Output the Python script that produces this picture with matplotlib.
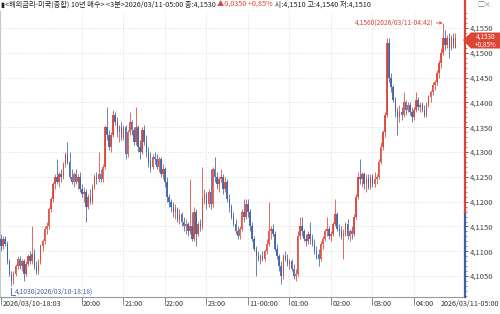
import numpy as np
import matplotlib
matplotlib.use('Agg')
import matplotlib.pyplot as plt
from matplotlib.patches import Polygon

plt.rcParams['font.family'] = ['Noto Sans CJK KR', 'DejaVu Sans']

# 3분봉 시/고/저/종 (2026/03/10-18:03 ~ 2026/03/11-05:00)
opens = [
    4.1125, 4.1110, 4.1125, 4.1115, 4.1080, 4.1055, 4.1040, 4.1055, 4.1070, 4.1085,
    4.1070, 4.1080, 4.1055, 4.1075, 4.1090, 4.1080, 4.1095, 4.1070, 4.1060, 4.1080,
    4.1110, 4.1120, 4.1145, 4.1150, 4.1185, 4.1205, 4.1235, 4.1250, 4.1240, 4.1255,
    4.1250, 4.1275, 4.1295, 4.1280, 4.1250, 4.1240, 4.1255, 4.1240, 4.1250, 4.1225,
    4.1215, 4.1220, 4.1190, 4.1210, 4.1200, 4.1230, 4.1250, 4.1245, 4.1255, 4.1245,
    4.1270, 4.1350, 4.1335, 4.1310, 4.1335, 4.1375, 4.1360, 4.1340, 4.1350, 4.1330,
    4.1350, 4.1295, 4.1340, 4.1360, 4.1345, 4.1320, 4.1350, 4.1310, 4.1300, 4.1345,
    4.1320, 4.1300, 4.1280, 4.1270, 4.1290, 4.1285, 4.1270, 4.1285, 4.1255, 4.1265,
    4.1240, 4.1210, 4.1200, 4.1190, 4.1180, 4.1185, 4.1165, 4.1175, 4.1160, 4.1150,
    4.1155, 4.1140, 4.1150, 4.1125, 4.1180, 4.1135, 4.1155, 4.1150, 4.1205, 4.1215,
    4.1195, 4.1220, 4.1195, 4.1265, 4.1250, 4.1235, 4.1245, 4.1250, 4.1225, 4.1240,
    4.1205, 4.1190, 4.1170, 4.1155, 4.1140, 4.1130, 4.1145, 4.1180, 4.1170, 4.1195,
    4.1180, 4.1150, 4.1125, 4.1105, 4.1090, 4.1085, 4.1090, 4.1085, 4.1100, 4.1115,
    4.1140, 4.1145, 4.1135, 4.1105, 4.1090, 4.1070, 4.1050, 4.1090, 4.1085, 4.1075,
    4.1080, 4.1065, 4.1050, 4.1055, 4.1130, 4.1150, 4.1140, 4.1125, 4.1120, 4.1135,
    4.1125, 4.1115, 4.1100, 4.1095, 4.1085, 4.1115, 4.1125, 4.1140, 4.1145, 4.1130,
    4.1135, 4.1155, 4.1175, 4.1145, 4.1140, 4.1130, 4.1135, 4.1155, 4.1130, 4.1140,
    4.1135, 4.1170, 4.1210, 4.1250, 4.1245, 4.1255, 4.1235, 4.1245, 4.1230, 4.1250,
    4.1235, 4.1245, 4.1250, 4.1280, 4.1310, 4.1340, 4.1375, 4.1520, 4.1450, 4.1430,
    4.1405, 4.1380, 4.1370, 4.1380, 4.1375, 4.1400, 4.1385, 4.1395, 4.1380, 4.1370,
    4.1385, 4.1405, 4.1390, 4.1395, 4.1385, 4.1375, 4.1395, 4.1410, 4.1420, 4.1435,
    4.1440, 4.1460, 4.1480, 4.1500, 4.1530, 4.1515, 4.1530, 4.1510, 4.1530, 4.1510,
]
highs = [
    4.1135, 4.1130, 4.1130, 4.1120, 4.1085, 4.1060, 4.1060, 4.1075, 4.1090, 4.1090,
    4.1085, 4.1085, 4.1080, 4.1095, 4.1100, 4.1150, 4.1105, 4.1080, 4.1085, 4.1115,
    4.1125, 4.1150, 4.1160, 4.1190, 4.1210, 4.1240, 4.1255, 4.1285, 4.1260, 4.1265,
    4.1280, 4.1300, 4.1320, 4.1300, 4.1265, 4.1260, 4.1265, 4.1255, 4.1260, 4.1235,
    4.1230, 4.1225, 4.1215, 4.1225, 4.1235, 4.1255, 4.1260, 4.1300, 4.1265, 4.1275,
    4.1355, 4.1390, 4.1345, 4.1340, 4.1385, 4.1380, 4.1370, 4.1355, 4.1360, 4.1355,
    4.1355, 4.1345, 4.1380, 4.1365, 4.1350, 4.1390, 4.1355, 4.1325, 4.1350, 4.1355,
    4.1335, 4.1310, 4.1300, 4.1295, 4.1300, 4.1295, 4.1290, 4.1290, 4.1275, 4.1270,
    4.1250, 4.1215, 4.1205, 4.1200, 4.1195, 4.1190, 4.1185, 4.1180, 4.1170, 4.1165,
    4.1160, 4.1245, 4.1180, 4.1190, 4.1185, 4.1160, 4.1165, 4.1270, 4.1225, 4.1220,
    4.1225, 4.1265, 4.1270, 4.1290, 4.1260, 4.1250, 4.1265, 4.1255, 4.1250, 4.1245,
    4.1215, 4.1195, 4.1180, 4.1165, 4.1150, 4.1150, 4.1185, 4.1205, 4.1205, 4.1205,
    4.1185, 4.1160, 4.1130, 4.1110, 4.1100, 4.1095, 4.1100, 4.1105, 4.1125, 4.1200,
    4.1150, 4.1155, 4.1140, 4.1115, 4.1095, 4.1080, 4.1095, 4.1100, 4.1095, 4.1085,
    4.1085, 4.1075, 4.1065, 4.1140, 4.1170, 4.1170, 4.1145, 4.1135, 4.1140, 4.1160,
    4.1135, 4.1125, 4.1110, 4.1105, 4.1120, 4.1130, 4.1145, 4.1170, 4.1150, 4.1140,
    4.1160, 4.1205, 4.1180, 4.1155, 4.1150, 4.1145, 4.1160, 4.1165, 4.1145, 4.1150,
    4.1175, 4.1215, 4.1260, 4.1285, 4.1260, 4.1260, 4.1255, 4.1255, 4.1255, 4.1255,
    4.1260, 4.1255, 4.1285, 4.1320, 4.1345, 4.1380, 4.1530, 4.1530, 4.1460, 4.1435,
    4.1410, 4.1390, 4.1395, 4.1390, 4.1420, 4.1405, 4.1400, 4.1400, 4.1390, 4.1390,
    4.1420, 4.1410, 4.1400, 4.1400, 4.1395, 4.1400, 4.1415, 4.1425, 4.1440, 4.1445,
    4.1465, 4.1485, 4.1510, 4.1560, 4.1545, 4.1535, 4.1540, 4.1535, 4.1540, 4.1540,
]
lows = [
    4.1100, 4.1105, 4.1110, 4.1075, 4.1050, 4.1030, 4.1035, 4.1050, 4.1065, 4.1065,
    4.1060, 4.1040, 4.1050, 4.1070, 4.1075, 4.1075, 4.1065, 4.1055, 4.1055, 4.1075,
    4.1100, 4.1115, 4.1135, 4.1145, 4.1180, 4.1200, 4.1225, 4.1235, 4.1230, 4.1240,
    4.1245, 4.1270, 4.1275, 4.1245, 4.1235, 4.1230, 4.1235, 4.1225, 4.1220, 4.1210,
    4.1200, 4.1160, 4.1185, 4.1195, 4.1195, 4.1225, 4.1235, 4.1240, 4.1240, 4.1240,
    4.1265, 4.1325, 4.1305, 4.1300, 4.1330, 4.1355, 4.1330, 4.1320, 4.1325, 4.1325,
    4.1285, 4.1290, 4.1335, 4.1335, 4.1315, 4.1315, 4.1300, 4.1285, 4.1295, 4.1315,
    4.1290, 4.1270, 4.1260, 4.1265, 4.1275, 4.1265, 4.1260, 4.1250, 4.1245, 4.1230,
    4.1200, 4.1190, 4.1180, 4.1170, 4.1165, 4.1160, 4.1155, 4.1150, 4.1140, 4.1135,
    4.1130, 4.1135, 4.1120, 4.1120, 4.1110, 4.1130, 4.1140, 4.1145, 4.1195, 4.1185,
    4.1190, 4.1185, 4.1190, 4.1240, 4.1225, 4.1220, 4.1240, 4.1215, 4.1220, 4.1200,
    4.1180, 4.1165, 4.1150, 4.1135, 4.1125, 4.1125, 4.1140, 4.1160, 4.1165, 4.1170,
    4.1140, 4.1120, 4.1100, 4.1050, 4.1080, 4.1075, 4.1080, 4.1080, 4.1095, 4.1110,
    4.1125, 4.1130, 4.1100, 4.1085, 4.1060, 4.1035, 4.1045, 4.1080, 4.1070, 4.1065,
    4.1060, 4.1045, 4.1040, 4.1050, 4.1125, 4.1130, 4.1120, 4.1110, 4.1115, 4.1115,
    4.1110, 4.1095, 4.1085, 4.1070, 4.1080, 4.1105, 4.1120, 4.1130, 4.1125, 4.1120,
    4.1130, 4.1150, 4.1140, 4.1130, 4.1125, 4.1085, 4.1130, 4.1125, 4.1120, 4.1125,
    4.1130, 4.1165, 4.1205, 4.1235, 4.1230, 4.1225, 4.1220, 4.1225, 4.1225, 4.1230,
    4.1230, 4.1235, 4.1245, 4.1275, 4.1305, 4.1330, 4.1370, 4.1440, 4.1420, 4.1400,
    4.1370, 4.1335, 4.1360, 4.1365, 4.1370, 4.1375, 4.1380, 4.1375, 4.1360, 4.1365,
    4.1380, 4.1385, 4.1380, 4.1380, 4.1370, 4.1370, 4.1390, 4.1400, 4.1415, 4.1425,
    4.1435, 4.1450, 4.1470, 4.1495, 4.1505, 4.1510, 4.1490, 4.1505, 4.1510, 4.1510,
]
closes = [
    4.1110, 4.1125, 4.1115, 4.1080, 4.1055, 4.1040, 4.1055, 4.1070, 4.1085, 4.1070,
    4.1080, 4.1055, 4.1075, 4.1090, 4.1080, 4.1095, 4.1070, 4.1060, 4.1080, 4.1110,
    4.1120, 4.1145, 4.1150, 4.1185, 4.1205, 4.1235, 4.1250, 4.1240, 4.1255, 4.1250,
    4.1275, 4.1295, 4.1280, 4.1250, 4.1240, 4.1255, 4.1240, 4.1250, 4.1225, 4.1215,
    4.1220, 4.1190, 4.1210, 4.1200, 4.1230, 4.1250, 4.1245, 4.1255, 4.1245, 4.1270,
    4.1350, 4.1335, 4.1310, 4.1335, 4.1375, 4.1360, 4.1340, 4.1350, 4.1330, 4.1350,
    4.1295, 4.1340, 4.1360, 4.1345, 4.1320, 4.1350, 4.1310, 4.1300, 4.1345, 4.1320,
    4.1300, 4.1280, 4.1270, 4.1290, 4.1285, 4.1270, 4.1285, 4.1255, 4.1265, 4.1240,
    4.1210, 4.1200, 4.1190, 4.1180, 4.1185, 4.1165, 4.1175, 4.1160, 4.1150, 4.1155,
    4.1140, 4.1150, 4.1125, 4.1180, 4.1135, 4.1155, 4.1150, 4.1205, 4.1215, 4.1195,
    4.1220, 4.1195, 4.1265, 4.1250, 4.1235, 4.1245, 4.1250, 4.1225, 4.1240, 4.1205,
    4.1190, 4.1170, 4.1155, 4.1140, 4.1130, 4.1145, 4.1180, 4.1170, 4.1195, 4.1180,
    4.1150, 4.1125, 4.1105, 4.1090, 4.1085, 4.1090, 4.1085, 4.1100, 4.1115, 4.1140,
    4.1145, 4.1135, 4.1105, 4.1090, 4.1070, 4.1050, 4.1090, 4.1085, 4.1075, 4.1080,
    4.1065, 4.1050, 4.1055, 4.1130, 4.1150, 4.1140, 4.1125, 4.1120, 4.1135, 4.1125,
    4.1115, 4.1100, 4.1095, 4.1085, 4.1115, 4.1125, 4.1140, 4.1145, 4.1130, 4.1135,
    4.1155, 4.1175, 4.1145, 4.1140, 4.1130, 4.1135, 4.1155, 4.1130, 4.1140, 4.1135,
    4.1170, 4.1210, 4.1250, 4.1245, 4.1255, 4.1235, 4.1245, 4.1230, 4.1250, 4.1235,
    4.1245, 4.1250, 4.1280, 4.1310, 4.1340, 4.1375, 4.1520, 4.1450, 4.1430, 4.1405,
    4.1380, 4.1370, 4.1380, 4.1375, 4.1400, 4.1385, 4.1395, 4.1380, 4.1370, 4.1385,
    4.1405, 4.1390, 4.1395, 4.1385, 4.1375, 4.1395, 4.1410, 4.1420, 4.1435, 4.1440,
    4.1460, 4.1480, 4.1500, 4.1530, 4.1515, 4.1530, 4.1510, 4.1530, 4.1515, 4.1530,
]

# 시간축 라벨 (봉 번호 기준)
tick_pos = [0, 39, 59, 79, 99, 119, 139, 159, 179, 199]
tick_labels = ['2026/03/10-18:03', '20:00', '21:00', '22:00', '23:00',
               '11-00:00', '01:00', '02:00', '03:00', '04:00']
end_label = '2026/03/11-05:00'
y_ticks = [4.105, 4.110, 4.115, 4.120, 4.125, 4.130, 4.135, 4.140, 4.145, 4.150, 4.155]

prev_close = 4.1180
hi_bar, hi_val, hi_time = 213, 4.1560, '2026/03/11-04:42'
lo_bar, lo_val, lo_time = 5, 4.1030, '2026/03/10-18:18'

RED = '#dc4436'
BLUE = '#3f62a6'
W, H = 500, 314


def fmt(v):
    return f'{v:.4f}'.replace('.', ',')


fig = plt.figure(figsize=(W / 100, H / 100), dpi=100)
fig.patch.set_facecolor('white')
ax = fig.add_axes([0.0, 17 / H, 465 / W, 286 / H])
ax.set_xlim(-0.5, 223.6)
ax.set_ylim(4.1008, 4.1584)

# 그리드
for y in y_ticks:
    ax.axhline(y, color='#d4d4d4', lw=0.6, ls=(0, (1, 2)), zorder=0)
for p in tick_pos[1:]:
    ax.axvline(p, color='#d4d4d4', lw=0.6, ls=(0, (1, 2)), zorder=0)

# 캔들
o = np.array(opens)
h = np.array(highs)
l = np.array(lows)
c = np.array(closes)
x = np.arange(len(c))
col = np.where(c >= o, RED, BLUE)
ax.vlines(x, l, h, colors=col, lw=0.7, alpha=0.8, zorder=2)
ax.bar(x, np.maximum(np.abs(c - o), 0.00008), bottom=np.minimum(o, c),
       width=0.7, color=col, lw=0, alpha=0.9, zorder=3)

# 축 스타일
for s in ['top', 'right']:
    ax.spines[s].set_visible(False)
ax.spines['left'].set_color('#c8c8c8')
ax.spines['left'].set_linewidth(0.8)
ax.spines['bottom'].set_color('#9a9a9a')
ax.spines['bottom'].set_linewidth(0.8)

ax.yaxis.tick_right()
ax.set_yticks(y_ticks)
ax.set_yticklabels([fmt(v) for v in y_ticks])
ax.set_yticks(np.arange(4.101, 4.158, 0.001), minor=True)
ax.tick_params(axis='y', which='major', length=2.5, width=0.6, pad=0.8,
               labelsize=5.5, colors='#444444')
ax.tick_params(axis='y', which='minor', length=1.3, width=0.5, colors='#666666')

ax.set_xticks(tick_pos)
ax.set_xticklabels([])
ax.tick_params(axis='x', length=6, width=0.6, colors='#777777')
for p, lab in zip(tick_pos, tick_labels):
    ax.text(p + 0.6, -7 / 286, lab, transform=ax.get_xaxis_transform(),
            ha='left', va='center', fontsize=5.2, color='#333333')
fig.text(499 / W, 1 - 304 / H, end_label, ha='right', va='center',
         fontsize=5.2, color='#333333')

# 오른쪽 축선: 전일 종가 기준 위 빨강 / 아래 파랑
yt = ax.get_yaxis_transform()
ax.plot([1, 1], [4.1008, prev_close], color=BLUE, lw=1.6, transform=yt,
        clip_on=False, zorder=5)
ax.plot([1, 1], [prev_close, 4.1607], color=RED, lw=1.6, transform=yt,
        clip_on=False, zorder=5)

# 최고/최저 표시
ax.annotate(f'{fmt(hi_val)}({hi_time})', xy=(hi_bar - 0.2, hi_val),
            xytext=(-9, 0), textcoords='offset pixels', ha='right', va='center',
            fontsize=4.8, color=RED,
            arrowprops=dict(arrowstyle='->', color=RED, lw=0.6,
                            shrinkA=0, shrinkB=0, mutation_scale=4))
ax.plot([lo_bar, lo_bar, lo_bar + 1.7], [lo_val - 0.0003, 4.1012, 4.1012],
        color=BLUE, lw=0.6, zorder=4)
ax.text(lo_bar + 1.9, 4.1018, f'{fmt(lo_val)}({lo_time})', ha='left', va='center',
        fontsize=4.8, color=BLUE)

# 현재가 태그
px = [(463, 40), (471, 32.5), (500, 32.5), (500, 48.5), (471, 48.5)]
tag = Polygon([(a / W, 1 - b / H) for a, b in px], closed=True,
              transform=fig.transFigure, facecolor=RED, edgecolor='none', zorder=6)
fig.add_artist(tag)
fig.text(486 / W, 1 - 37 / H, fmt(closes[-1]), ha='center', va='center',
         fontsize=4.6, color='white', zorder=7)
fig.text(486 / W, 1 - 44.5 / H, '+0,85%', ha='center', va='center',
         fontsize=4.6, color='white', zorder=7)

# 상단 헤더
renderer = fig.canvas.get_renderer()
parts = [
    ('▮<해외금리-미국(종합) 10년 매수> <3분>2026/03/11-05:00 종:' + fmt(closes[-1]) + ' ', '#222222'),
    ('▲' + fmt(closes[-1] - prev_close) + ' +0,85%', RED),
    (' 시:' + fmt(opens[-1]) + ' 고:' + fmt(highs[-1]) + ' 저:' + fmt(lows[-1]), '#222222'),
]
xpos = 1 / W
for txt, color in parts:
    t = fig.text(xpos, 1 - 5 / H, txt, ha='left', va='center', fontsize=5.2, color=color)
    bb = t.get_window_extent(renderer)
    xpos = bb.x1 / W
fig.text(477 / W, 1 - 5 / H, '□×', ha='left', va='center', fontsize=5, color='#777777')

fig.savefig('out.png', dpi=100)
